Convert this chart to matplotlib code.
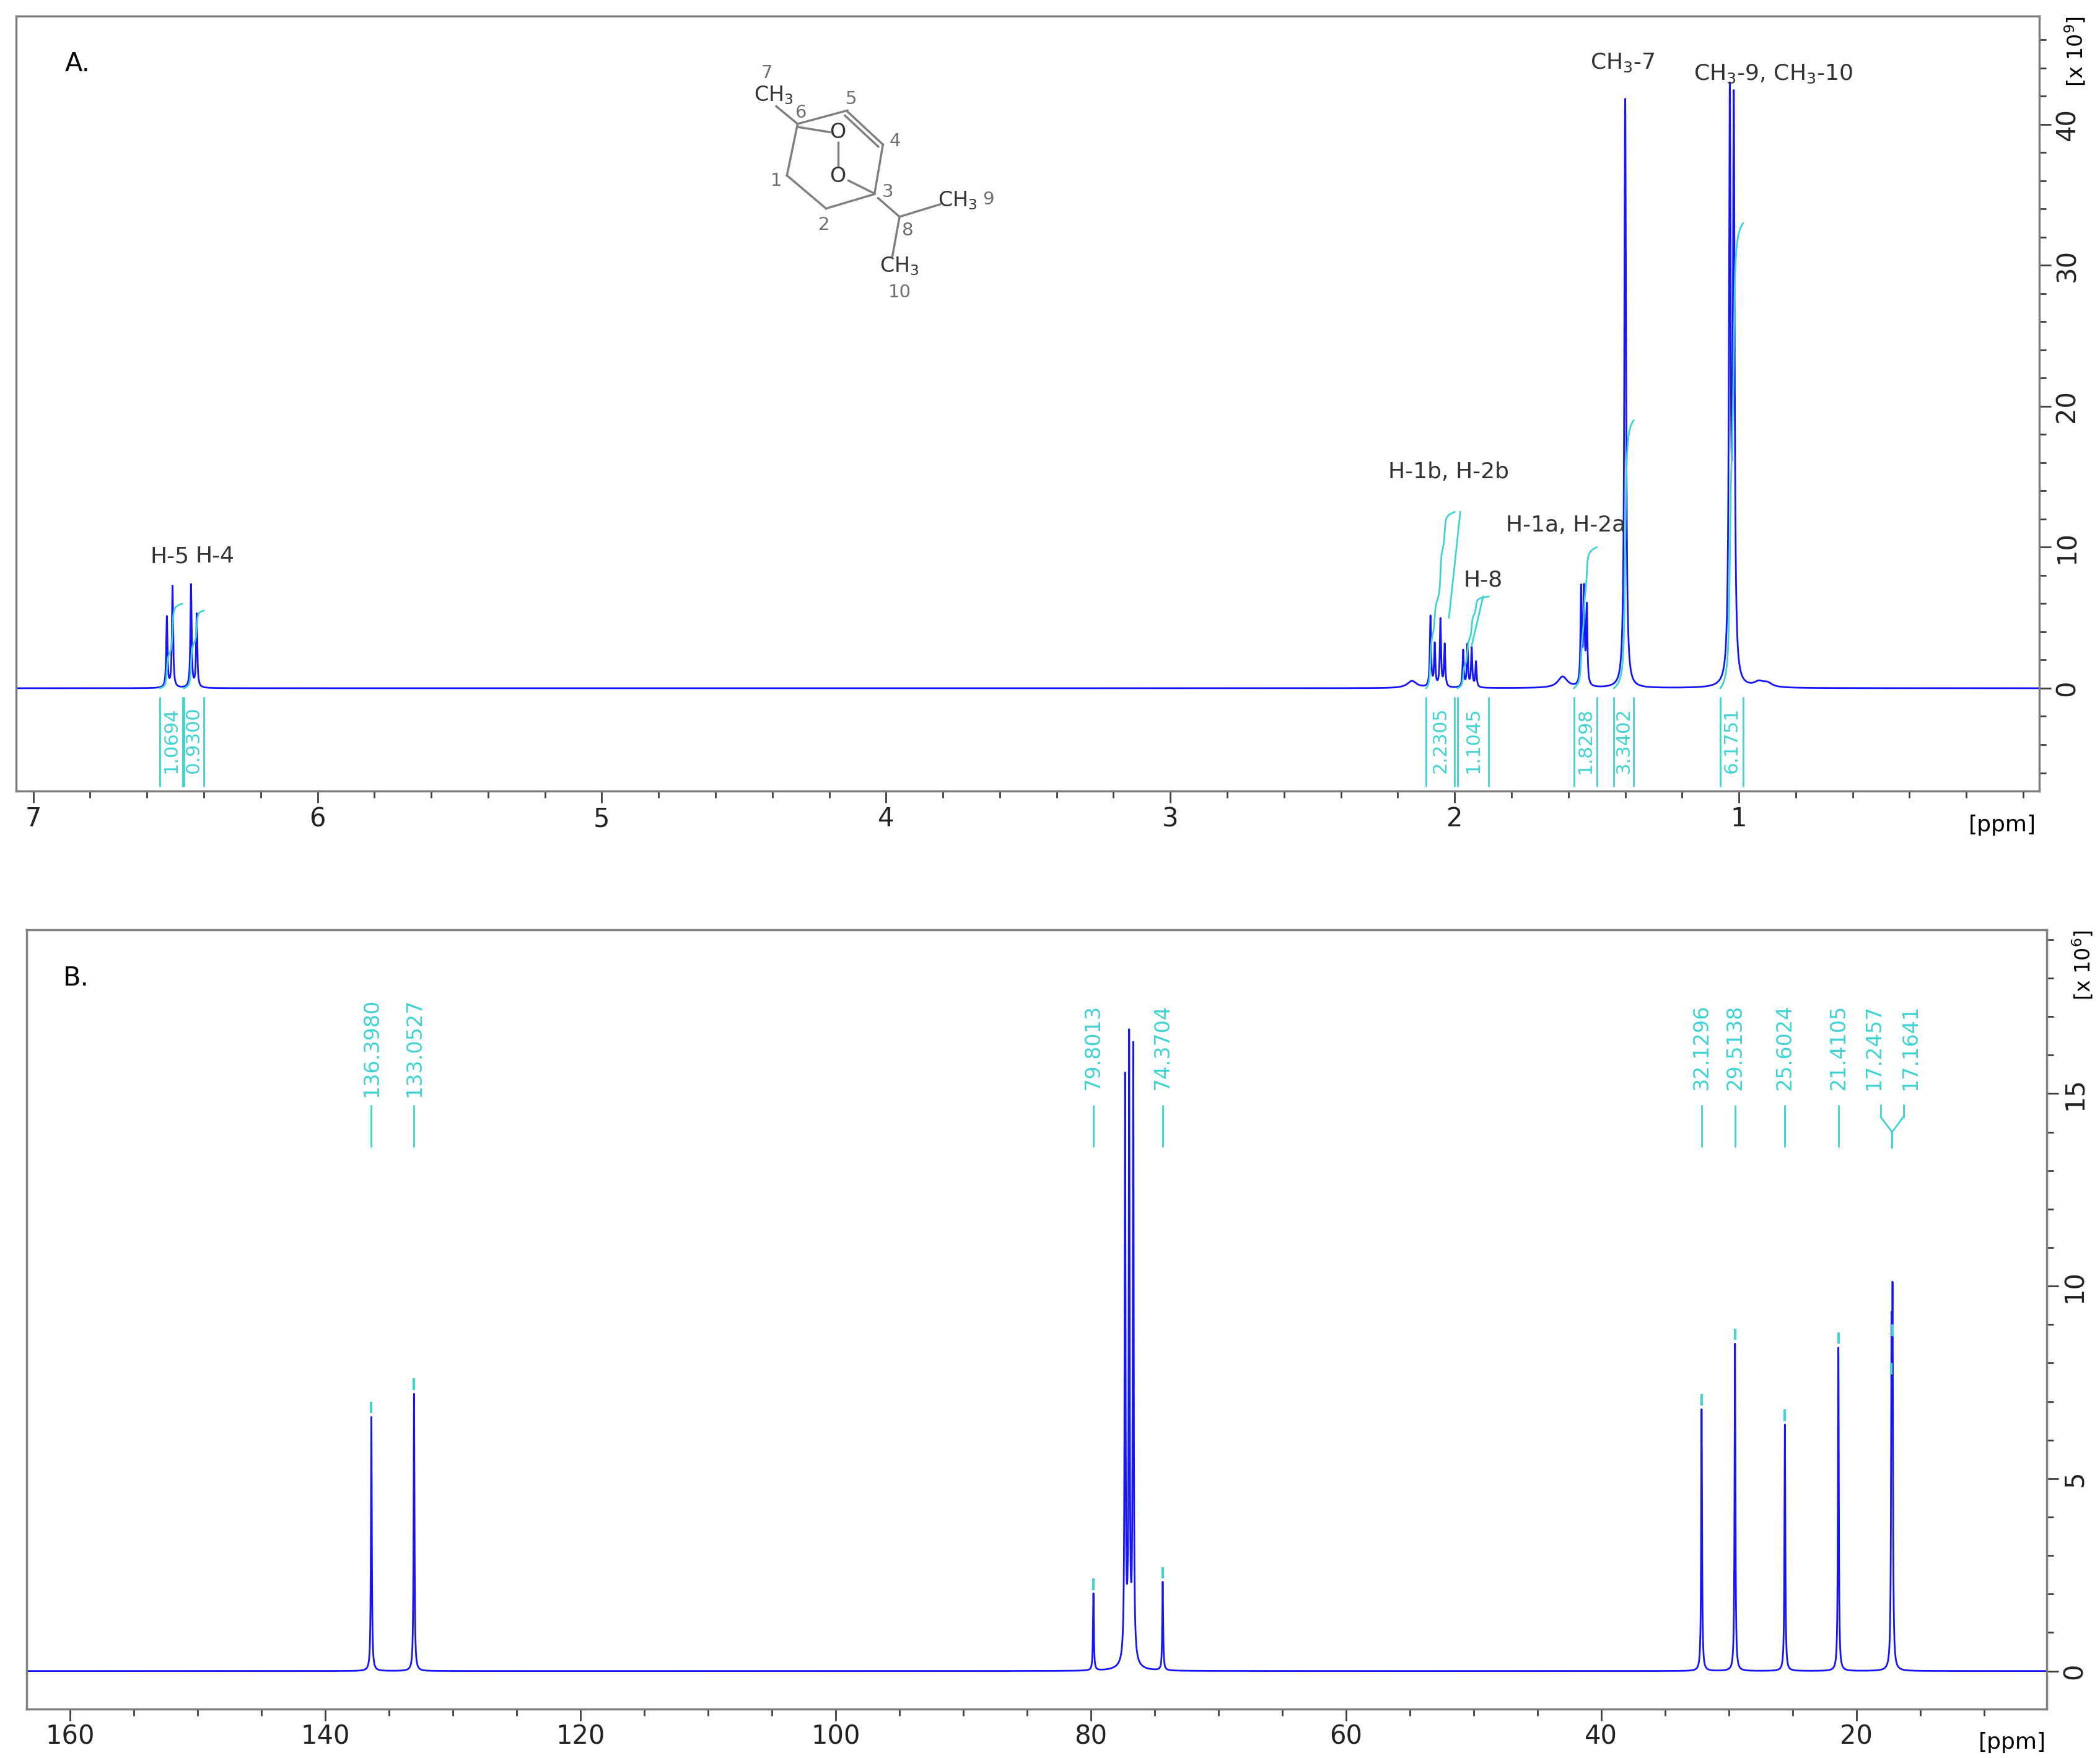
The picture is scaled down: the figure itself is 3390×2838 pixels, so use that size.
import numpy as np
import matplotlib.pyplot as plt
from matplotlib.ticker import MultipleLocator, FixedLocator

# ---- data: 1H spectrum (panel A) ----
h_ppm = [6.53, 6.51, 6.445, 6.425, 2.085, 2.07, 2.05, 2.035, 1.97, 1.955, 1.94, 1.925,
         1.555, 1.545, 1.535, 1.40, 1.032, 1.018, 1.62, 2.15, 0.93, 0.9]
h_height = [5.0, 7.2, 7.3, 5.2, 5.0, 3.0, 4.8, 3.0, 2.6, 3.0, 2.8, 1.8,
            6.8, 6.6, 5.5, 41.8, 40.6, 40.0, 0.8, 0.5, 0.35, 0.3]
h_width = [0.0025] * 15 + [0.0035, 0.0035, 0.0035, 0.02, 0.02, 0.02, 0.02]

h_labels = ["H-5", "H-4", "H-1b, H-2b", "H-8", "H-1a, H-2a", "CH$_3$-7", "CH$_3$-9, CH$_3$-10"]
h_label_pos = [(6.52, 8.6), (6.36, 8.6), (2.02, 14.6), (1.90, 6.9), (1.61, 10.8), (1.41, 43.6), (0.88, 42.8)]

int_values = ["1.0694", "0.9300", "2.2305", "1.1045", "1.8298", "3.3402", "6.1751"]
int_lo = [6.555, 6.47, 2.10, 1.99, 1.58, 1.44, 1.065]
int_hi = [6.475, 6.40, 2.00, 1.88, 1.50, 1.37, 0.985]
int_top = [6.0, 5.5, 12.5, 6.5, 10.0, 19.0, 33.0]

# ---- data: 13C spectrum (panel B) ----
c_ppm = [136.398, 133.0527, 79.8013, 77.32, 77.0, 76.68, 74.3704,
         32.1296, 29.5138, 25.6024, 21.4105, 17.2457, 17.1641]
c_height = [6.6, 7.2, 2.0, 15.0, 15.8, 15.8, 2.3, 6.8, 8.5, 6.4, 8.4, 7.6, 8.6]
c_label = ["136.3980", "133.0527", "79.8013", "", "", "", "74.3704",
           "32.1296", "29.5138", "25.6024", "21.4105", "17.2457", "17.1641"]

blue = "#1414ff"
cyan = "#3fd3d3"
frame = "#7f7f7f"

fig = plt.figure(figsize=(33.9, 28.38), dpi=100)
axA = fig.add_axes([0.0077, 0.55, 0.9633, 0.441])
axB = fig.add_axes([0.0128, 0.028, 0.9617, 0.443])


def lorentz(x, c, h, w):
    return h * w**2 / ((x - c)**2 + w**2)


for ax in (axA, axB):
    for s in ax.spines.values():
        s.set_color(frame)
        s.set_linewidth(2.5)
    ax.yaxis.tick_right()
    ax.tick_params(axis="both", which="major", length=14, width=2, color="#404040",
                   labelsize=30, direction="out", labelcolor="#222222")
    ax.tick_params(axis="both", which="minor", length=8, width=2, color="#404040")

# panel A
x = np.linspace(7.06, -0.056, 90000)
y = np.zeros_like(x)
for c, h, w in zip(h_ppm, h_height, h_width):
    y += lorentz(x, c, h, w)
axA.plot(x, y, color=blue, lw=2)
axA.set_xlim(7.06, -0.056)
axA.set_ylim(-7.3, 47.7)
axA.xaxis.set_major_locator(FixedLocator([1, 2, 3, 4, 5, 6, 7]))
axA.xaxis.set_minor_locator(MultipleLocator(0.2))
axA.yaxis.set_major_locator(MultipleLocator(10))
axA.yaxis.set_minor_locator(MultipleLocator(2))
for lab in axA.get_yticklabels():
    lab.set_rotation(90)
    lab.set_va("center")
axA.text(0.024, 0.955, "A.", transform=axA.transAxes, fontsize=30, ha="left", va="top")
axA.text(1.012, 1.0, "[x 10$^9$]", transform=axA.transAxes, fontsize=24, rotation=90,
         ha="left", va="top")
axA.text(0.982, -0.03, "[ppm]", transform=axA.transAxes, fontsize=26, ha="center", va="top")
for t, (px, py) in zip(h_labels, h_label_pos):
    axA.text(px, py, t, fontsize=26, color="#333333", ha="center", va="bottom")

# integrals
for val, lo, hi, top in zip(int_values, int_lo, int_hi, int_top):
    m = (x <= lo) & (x >= hi)
    cum = np.cumsum(y[m])
    cum = cum / cum[-1] * top
    axA.plot(x[m], cum, color=cyan, lw=2)
    axA.vlines([lo, hi], -7.0, -0.6, color=cyan, lw=2)
    axA.text((lo + hi) / 2, -3.7, val, color=cyan, fontsize=22, rotation=90,
             ha="center", va="center")
axA.plot([2.02, 1.98], [5.0, 12.5], color=cyan, lw=2)
axA.plot([1.94, 1.90], [3.0, 6.5], color=cyan, lw=2)

# panel B
xc = np.linspace(163.4, 5.1, 120000)
yc = np.zeros_like(xc)
for c, h in zip(c_ppm, c_height):
    yc += lorentz(xc, c, h, 0.04)
yc += lorentz(xc, 77.0, 0.4, 0.4)
axB.plot(xc, yc, color=blue, lw=2)
axB.set_xlim(163.4, 5.1)
axB.set_ylim(-0.98, 19.25)
axB.xaxis.set_major_locator(FixedLocator([20, 40, 60, 80, 100, 120, 140, 160]))
axB.xaxis.set_minor_locator(MultipleLocator(5))
axB.yaxis.set_major_locator(MultipleLocator(5))
axB.yaxis.set_minor_locator(MultipleLocator(1))
for lab in axB.get_yticklabels():
    lab.set_rotation(90)
    lab.set_va("center")
axB.text(0.018, 0.955, "B.", transform=axB.transAxes, fontsize=30, ha="left", va="top")
axB.text(1.012, 1.0, "[x 10$^6$]", transform=axB.transAxes, fontsize=24, rotation=90,
         ha="left", va="top")
axB.text(0.983, -0.03, "[ppm]", transform=axB.transAxes, fontsize=26, ha="center", va="top")
for c, h, lab in zip(c_ppm, c_height, c_label):
    if not lab:
        continue
    axB.vlines(c, h + 0.1, h + 0.4, color=cyan, lw=3)
    if lab.startswith("17."):
        off = 0.9 if lab == "17.2457" else -0.9
        axB.plot([17.2, 17.2, 17.2 + off], [13.6, 14.0, 14.4], color=cyan, lw=2)
        axB.plot([17.2 + off, 17.2 + off], [14.4, 14.7], color=cyan, lw=2)
        axB.text(17.2 + off * 1.6, 16.2, lab, color=cyan, fontsize=24, rotation=90,
                 ha="center", va="center")
    else:
        axB.vlines(c, 13.6, 14.7, color=cyan, lw=2)
        axB.text(c, 16.2, lab, color=cyan, fontsize=24, rotation=90,
                 ha="center", va="center")

# structure drawing (inset, local pixel coords)
axS = fig.add_axes([0.3245, 0.8168, 0.177, 0.1832])
axS.set_xlim(0, 1568)
axS.set_ylim(1560, 0)
axS.axis("off")
bonds = [((490, 600), (700, 535)), ((700, 540), (850, 700)), ((850, 700), (815, 935)),
         ((815, 940), (610, 1010)), ((610, 1010), (445, 850)), ((445, 850), (490, 600)),
         ((490, 600), (400, 515)), ((490, 615), (625, 640)), ((660, 690), (660, 805)),
         ((705, 875), (810, 935)), ((830, 960), (920, 1050)), ((920, 1050), (1090, 990)),
         ((920, 1050), (890, 1240)), ((690, 560), (830, 710))]
for (x0, y0), (x1, y1) in bonds:
    axS.plot([x0, x1], [y0, y1], color="#808080", lw=2.5)
atoms = [("CH$_3$", 390, 460), ("O", 660, 640), ("O", 660, 855), ("CH$_3$", 1165, 970),
         ("CH$_3$", 920, 1290)]
for t, ax_, ay in atoms:
    axS.text(ax_, ay, t, fontsize=24, color="#333333", ha="center", va="center")
nums = [("7", 360, 355), ("6", 505, 545), ("5", 715, 480), ("4", 900, 685), ("1", 400, 875),
        ("2", 600, 1090), ("3", 870, 930), ("8", 955, 1115), ("9", 1295, 965), ("10", 920, 1415)]
for t, nx, ny in nums:
    axS.text(nx, ny, t, fontsize=21, color="#707070", ha="center", va="center")

fig.savefig("out.png", dpi=100)
